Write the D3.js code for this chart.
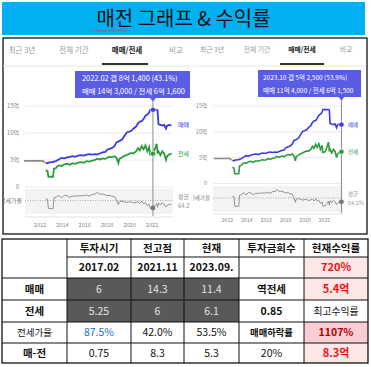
<!DOCTYPE html>
<html><head><meta charset="utf-8">
<script src="https://cdn.jsdelivr.net/npm/d3@7"></script>
<style>
html,body{margin:0;padding:0;background:#fff;}
svg{display:block;font-family:"Noto Sans CJK KR","Noto Sans",sans-serif;}
</style></head><body>
<svg id="c" width="371" height="367"></svg>
<script>
// ---------- DATA ----------
const months = ["2012.07","2012.09","2012.10","2013.01","2013.03","2013.04","2013.06","2013.08","2013.10","2013.12",
"2014.03","2014.06","2014.09","2014.12","2015.03","2015.06","2015.09","2015.12","2016.03","2016.06","2016.09","2016.12",
"2017.02","2017.05","2017.08","2017.11","2018.01","2018.04","2018.06","2018.09","2018.11","2019.01","2019.02","2019.05",
"2019.08","2019.10","2019.12","2020.03","2020.05","2020.08","2020.10","2020.12","2021.02","2021.04","2021.06","2021.08",
"2021.10","2021.11","2022.02","2022.04","2022.06","2022.07","2022.08","2022.10","2022.12","2023.02","2023.04","2023.05",
"2023.07","2023.09","2023.10"];
const maemae = [4.5,4.4,4.5,4.6,4.6,4.7,4.8,5.0,5.2,5.4,
5.3,5.5,5.6,5.7,5.6,5.8,5.9,5.8,6.0,6.1,6.0,6.1,
6.0,6.2,6.4,6.5,6.9,7.1,7.2,7.6,8.3,8.4,8.5,8.8,
9.6,10.1,10.2,10.4,10.8,11.2,11.8,12.1,12.2,12.6,13.2,13.4,
13.8,14.3,14.3,14.3,14.3,14.2,11.6,11.5,11.4,11.5,10.8,11.3,
11.5,11.4,11.4];
const jeonse = [3.1,3.0,1.9,1.9,1.9,3.4,3.5,3.9,4.0,3.9,
4.2,4.3,4.1,4.4,4.3,4.5,4.6,4.5,4.8,4.7,4.9,5.0,
5.25,5.1,5.3,5.2,5.4,5.6,5.5,5.7,5.4,4.4,5.2,5.5,
5.8,5.9,6.1,6.3,6.2,6.6,7.2,6.8,7.6,7.0,7.7,6.6,
7.4,6.0,6.16,7.0,8.0,6.4,6.6,5.9,6.6,6.2,5.0,5.6,
6.0,6.1,6.15];
const ratio = [68.9,68.2,42.2,41.3,41.3,72.3,72.9,78.0,76.9,72.2,
79.2,78.2,73.2,77.2,76.8,77.6,78.0,77.6,80.0,77.0,81.7,82.0,
87.5,82.3,82.8,80.0,78.3,78.9,76.4,75.0,65.1,52.4,61.2,62.5,
60.4,58.4,59.8,60.6,57.4,58.9,61.0,56.2,62.3,55.6,58.3,49.3,
53.6,42.0,43.1,49.0,55.9,45.1,56.9,51.3,57.9,53.9,46.3,49.6,
52.2,53.5,53.9];
const preMonths = ["2010.08","2012.04","2012.06"];
const preValues = [4.85,4.85,4.5];
const avgRatio = 64.2;
const yTicks = [0,5,10,15];
const yTickLabels = ["0","5억","10억","15억"];
const yearTicks = [2012,2014,2016,2018,2020,2022];
const tabs = ["최근 3년","전체 기간","매매/전세","비교"];
const leftTip = {month:"2022.02", line1:"2022.02  갭 8억 1,400 (43.1%)", line2:"매매 14억 3,000 / 전세 6억 1,600"};
const rightTip = {month:"2023.10", line1:"2023.10  갭 5억 2,500 (53.9%)", line2:"매매 11억 4,000 / 전세 6억 1,500"};
const title = "매전 그래프 & 수익률";
const tableHeader = ["","투자시기","전고점","현재","투자금회수","현재수익률"];
const tableRows = [
  ["","2017.02","2021.11","2023.09.","","720%"],
  ["매매","6","14.3","11.4","역전세","5.4억"],
  ["전세","5.25","6","6.1","0.85","최고수익률"],
  ["전세가율","87.5%","42.0%","53.5%","매매하락률","1107%"],
  ["매-전","0.75","8.3","5.3","20%","8.3억"]
];

// ---------- DRAW ----------
const svg = d3.select("#c");
const parse = d3.timeParse("%Y.%m");
const BLUE = "#3b3be3", GREEN = "#2f9a3f", GRAY = "#8a8a8a", TIP = "#5b5ce6";

// title
svg.append("rect").attr("x",2).attr("y",2).attr("width",363).attr("height",33).attr("fill","#00b0f0");
svg.append("text").attr("x",183.5).attr("y",26).attr("text-anchor","middle")
  .attr("font-size",20).attr("fill","#111").text(title);
{
  let p = "M90,30.5"; for (let x=90; x<127; x+=2) p += ` L${x+1},${(x/2)%2? 29.5:31.5} L${x+2},30.5`;
  svg.append("path").attr("d",p).attr("fill","none").attr("stroke","#e23b3b").attr("stroke-width",0.8);
}

// chart frame
svg.append("rect").attr("x",3).attr("y",38).attr("width",364).attr("height",196)
  .attr("fill","#fff").attr("stroke","#111").attr("stroke-width",1.3);

function drawPanel(cfg, id) {
  svg.append("clipPath").attr("id",id).append("rect")
    .attr("x",cfg.clip[0]).attr("y",cfg.clip[1]).attr("width",cfg.clip[2]).attr("height",cfg.clip[3]);
  const g = svg.append("g").attr("clip-path",`url(#${id})`);
  const x = d3.scaleTime().domain([new Date(2012,0,1), new Date(2022,0,1)]).range([cfg.x2012, cfg.x2022]);
  const y = d3.scaleLinear().domain([0,15]).range([cfg.y0, cfg.y15]);
  const yr = d3.scaleLinear().domain([26,97]).range([cfg.bandB, cfg.bandT]);

  // tabs
  g.append("line").attr("x1",cfg.clip[0]).attr("x2",cfg.clip[0]+cfg.clip[2]).attr("y1",66).attr("y2",66)
    .attr("stroke","#e6e6e6").attr("stroke-width",1);
  tabs.forEach((t,i)=>{
    g.append("text").attr("x",cfg.tabX[i]).attr("y",cfg.tabY).attr("text-anchor","middle")
      .attr("font-size",cfg.tabFont).attr("font-weight", i===2?"bold":"normal")
      .attr("fill", i===2?"#222":"#9a9a9a").text(t);
  });
  g.append("rect").attr("x",cfg.ul[0]).attr("y",63).attr("width",cfg.ul[1]-cfg.ul[0]).attr("height",2).attr("fill","#333");

  // grid
  yTicks.forEach((v,i)=>{
    g.append("line").attr("x1",cfg.px0).attr("x2",cfg.px1).attr("y1",y(v)).attr("y2",y(v))
      .attr("stroke","#ececec").attr("stroke-width",1);
    g.append("text").attr("x",cfg.labX).attr("y",y(v)+cfg.axFont*0.35).attr("text-anchor","end")
      .attr("font-size",cfg.axFont).attr("fill","#888").text(yTickLabels[i]);
  });
  // ratio band
  g.append("rect").attr("x",cfg.px0).attr("y",cfg.bandT).attr("width",cfg.px1-cfg.px0).attr("height",cfg.bandB-cfg.bandT).attr("fill","#f3f3f3");
  g.append("line").attr("x1",cfg.px0).attr("x2",cfg.px1).attr("y1",yr(avgRatio)).attr("y2",yr(avgRatio))
    .attr("stroke","#9a9a9a").attr("stroke-width",0.8).attr("stroke-dasharray","1,1.5");
  g.append("text").attr("x",cfg.labX+3).attr("y",yr(avgRatio)+cfg.axFont*0.35).attr("text-anchor","end")
    .attr("font-size",cfg.axFont).attr("fill","#777").text("전세가율");
  g.append("line").attr("x1",cfg.px0).attr("x2",cfg.px1).attr("y1",cfg.axisY).attr("y2",cfg.axisY).attr("stroke","#e4e4e4");
  yearTicks.forEach(yv=>{
    g.append("text").attr("x",x(new Date(yv,0,1))).attr("y",cfg.yearY).attr("text-anchor","middle")
      .attr("font-size",cfg.yearFont).attr("fill","#888").text(yv);
  });

  // lines
  const dates = months.map(parse);
  const line = d3.line().x(d=>x(d[0])).y(d=>y(d[1]));
  g.append("path").datum(preMonths.map((m,i)=>[parse(m),preValues[i]])).attr("d",line)
    .attr("fill","none").attr("stroke","#888").attr("stroke-width",cfg.lw);
  g.append("path").datum(dates.map((d,i)=>[d,jeonse[i]])).attr("d",line)
    .attr("fill","none").attr("stroke",GREEN).attr("stroke-width",cfg.lw);
  g.append("path").datum(dates.map((d,i)=>[d,maemae[i]])).attr("d",line)
    .attr("fill","none").attr("stroke",BLUE).attr("stroke-width",cfg.lw);
  g.append("path").datum(dates.map((d,i)=>[d,ratio[i]]))
    .attr("d",d3.line().x(d=>x(d[0])).y(d=>yr(d[1])))
    .attr("fill","none").attr("stroke","#888").attr("stroke-width",0.9);

  // series labels
  const li = months.length-1;
  g.append("text").attr("x",cfg.serX).attr("y",y(maemae[li])+2).attr("font-size",cfg.axFont).attr("fill",BLUE).text("매매");
  g.append("text").attr("x",cfg.serX).attr("y",y(jeonse[li])+2).attr("font-size",cfg.axFont).attr("fill",GREEN).text("전세");
  g.append("text").attr("x",cfg.serX).attr("y",yr(avgRatio)-2).attr("font-size",cfg.axFont).attr("fill","#999").text("평균");
  g.append("text").attr("x",cfg.serX).attr("y",yr(avgRatio)+cfg.axFont+1).attr("font-size",cfg.axFont).attr("fill","#999").text(avgRatio+"%");

  // tooltip + crosshair
  const ti = months.indexOf(cfg.tip.month);
  const tx = x(parse(cfg.tip.month));
  g.append("line").attr("x1",tx).attr("x2",tx).attr("y1",cfg.tipR[1]+cfg.tipR[3]).attr("y2",cfg.axisY-1)
    .attr("stroke","#8c8c8c").attr("stroke-width",1);
  g.append("rect").attr("x",cfg.tipR[0]).attr("y",cfg.tipR[1]).attr("width",cfg.tipR[2]).attr("height",cfg.tipR[3]).attr("fill",TIP);
  g.append("path").attr("d",`M${tx-3},${cfg.tipR[1]+cfg.tipR[3]}L${tx+3},${cfg.tipR[1]+cfg.tipR[3]}L${tx},${cfg.tipR[1]+cfg.tipR[3]+3.5}Z`).attr("fill",TIP);
  g.append("text").attr("x",cfg.tipR[0]+cfg.tipPad).attr("y",cfg.tipR[1]+cfg.tipR[3]*0.38).attr("font-size",cfg.tipFont).attr("fill","#fff").text(cfg.tip.line1);
  g.append("text").attr("x",cfg.tipR[0]+cfg.tipPad).attr("y",cfg.tipR[1]+cfg.tipR[3]*0.84).attr("font-size",cfg.tipFont).attr("fill","#fff").text(cfg.tip.line2);
  g.append("circle").attr("cx",tx).attr("cy",y(maemae[ti])).attr("r",2.6).attr("fill",BLUE).attr("stroke","#fff").attr("stroke-width",0.6);
  g.append("circle").attr("cx",tx).attr("cy",y(jeonse[ti])).attr("r",2.6).attr("fill",GREEN).attr("stroke","#fff").attr("stroke-width",0.6);
  g.append("circle").attr("cx",tx).attr("cy",yr(ratio[ti])).attr("r",2.4).attr("fill","#777");
}

drawPanel({clip:[3,39,187,194], tabX:[22,74,127,176], tabY:53, tabFont:7.5, ul:[102,148],
  px0:25, px1:173, x2012:40, x2022:152, y0:187, y15:106, labX:19, axFont:6,
  bandT:189, bandB:214, axisY:217, yearY:227, yearFont:5.6, serX:178, lw:1.8,
  tip:leftTip, tipR:[75,71,125,27], tipPad:7, tipFont:7.4}, "clipL");
drawPanel({clip:[193,39,173,194], tabX:[212,257,302,346], tabY:52, tabFont:6.8, ul:[280,324],
  px0:213, px1:343, x2012:227.5, x2022:324.5, y0:183.5, y15:106, labX:207, axFont:5.5,
  bandT:186, bandB:212, axisY:214, yearY:222, yearFont:5.2, serX:348, lw:1.6,
  tip:rightTip, tipR:[258,70,103,27], tipPad:5, tipFont:6.5}, "clipR");

// ---------- TABLE ----------
const colX = [2,67,131,184,239,304,368];
const rowY = [239,257,278,300,322,343,363];
const tg = svg.append("g");
function cellStyle(r,c){ // r: 0 header, 1..5 body
  const s = {bg:null, color:"#111", weight:"normal", size:10.5};
  if (r===0) { s.weight="bold"; s.size=10.5; }
  if (r===1) { s.weight="bold"; }
  if (c===0 && r>0) { s.weight = (r===4)?"normal":"bold"; s.size = (r===4)?9.5:10.5; }
  if ((r===2||r===3) && c>=1 && c<=3) { s.bg="#595959"; s.color="#e4e4e4"; }
  if (r===2 && c===4) s.weight="bold";
  if (r===3 && c===4) s.weight="bold";
  if (r===4 && c===4) { s.weight="bold"; s.size=9.3; }
  if (r===4 && c===1) s.color="#1f6fc5";
  if (c===5 && r>0) {
    if (r===3) { s.size=9.8; }
    else if (r===4) { s.bg="#f8cdd3"; s.color="#b00000"; s.weight="bold"; }
    else { s.bg="#fde6e6"; s.color="#f01010"; s.weight="bold"; s.size=11; }
  }
  return s;
}
const allRows = [tableHeader, ...tableRows];
allRows.forEach((row,r)=>{
  row.forEach((val,c)=>{
    const s = cellStyle(r,c);
    const x0 = colX[c], x1 = colX[c+1], y0 = rowY[r], y1 = rowY[r+1];
    if (s.bg) tg.append("rect").attr("x",x0).attr("y",y0).attr("width",x1-x0).attr("height",y1-y0).attr("fill",s.bg);
    if (val) tg.append("text").attr("x",(x0+x1)/2).attr("y",(y0+y1)/2+s.size*0.36).attr("text-anchor","middle")
      .attr("font-size",s.size).attr("font-weight",s.weight).attr("fill",s.color).text(val);
  });
});
colX.slice(1,-1).forEach(cx=>tg.append("line").attr("x1",cx).attr("x2",cx).attr("y1",rowY[0]).attr("y2",rowY[6]).attr("stroke","#111").attr("stroke-width",1));
tg.append("line").attr("x1",colX[1]).attr("x2",colX[6]).attr("y1",rowY[1]).attr("y2",rowY[1]).attr("stroke","#111").attr("stroke-width",1);
rowY.slice(2,-1).forEach(ry=>tg.append("line").attr("x1",colX[0]).attr("x2",colX[6]).attr("y1",ry).attr("y2",ry).attr("stroke","#111").attr("stroke-width",1));
tg.append("rect").attr("x",colX[0]).attr("y",rowY[0]).attr("width",colX[6]-colX[0]).attr("height",rowY[6]-rowY[0])
  .attr("fill","none").attr("stroke","#111").attr("stroke-width",1.3);
</script>
</body></html>
